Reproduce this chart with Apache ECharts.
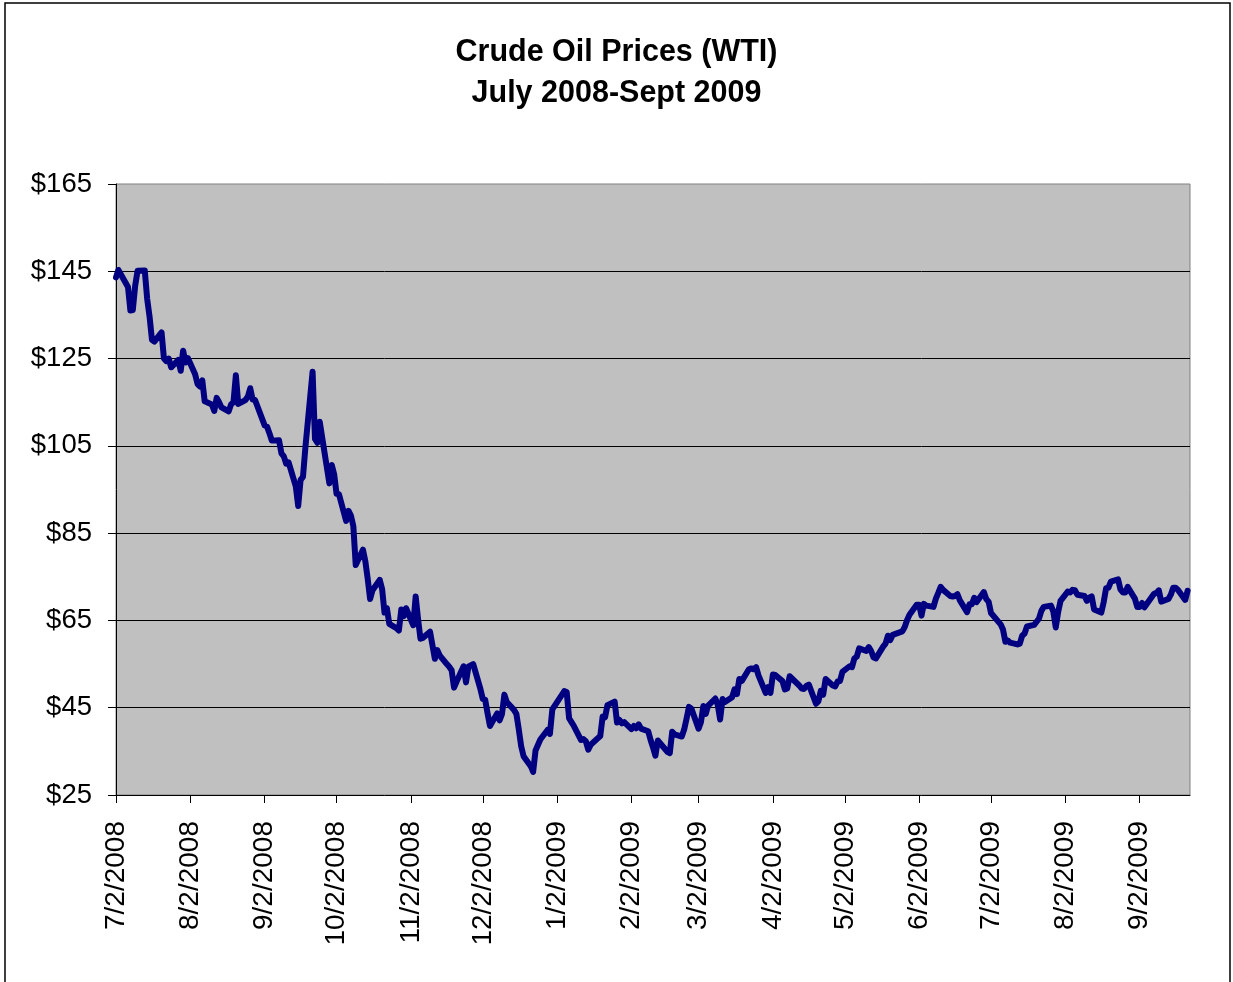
<!DOCTYPE html>
<html lang="en">
<head>
<meta charset="UTF-8">
<title>Crude Oil Prices (WTI)</title>
<script src="https://cdn.jsdelivr.net/npm/echarts@6.0.0/dist/echarts.min.js"></script>
<style>
    html, body { margin: 0; padding: 0; background: #fff; }
    #chart { width: 1233px; height: 982px; }
</style>
</head>
<body>
<div id="chart"></div>
<script>
// daily WTI spot
var dates = [
    '2008-07-02','2008-07-03','2008-07-07','2008-07-08','2008-07-09','2008-07-10','2008-07-11','2008-07-14','2008-07-15','2008-07-16',
    '2008-07-17','2008-07-18','2008-07-21','2008-07-22','2008-07-23','2008-07-24','2008-07-25','2008-07-28','2008-07-29','2008-07-30',
    '2008-07-31','2008-08-01','2008-08-04','2008-08-05','2008-08-06','2008-08-07','2008-08-08','2008-08-11','2008-08-12','2008-08-13',
    '2008-08-14','2008-08-15','2008-08-18','2008-08-19','2008-08-20','2008-08-21','2008-08-22','2008-08-25','2008-08-26','2008-08-27',
    '2008-08-28','2008-08-29','2008-09-02','2008-09-03','2008-09-04','2008-09-05','2008-09-08','2008-09-09','2008-09-10','2008-09-11',
    '2008-09-12','2008-09-15','2008-09-16','2008-09-17','2008-09-18','2008-09-19','2008-09-22','2008-09-23','2008-09-24','2008-09-25',
    '2008-09-26','2008-09-29','2008-09-30','2008-10-01','2008-10-02','2008-10-03','2008-10-06','2008-10-07','2008-10-08','2008-10-09',
    '2008-10-10','2008-10-13','2008-10-14','2008-10-15','2008-10-16','2008-10-17','2008-10-20','2008-10-21','2008-10-22','2008-10-23',
    '2008-10-24','2008-10-27','2008-10-28','2008-10-29','2008-10-30','2008-10-31','2008-11-03','2008-11-04','2008-11-05','2008-11-06',
    '2008-11-07','2008-11-10','2008-11-11','2008-11-12','2008-11-13','2008-11-14','2008-11-17','2008-11-18','2008-11-19','2008-11-20',
    '2008-11-21','2008-11-24','2008-11-25','2008-11-26','2008-11-28','2008-12-01','2008-12-02','2008-12-03','2008-12-04','2008-12-05',
    '2008-12-08','2008-12-09','2008-12-10','2008-12-11','2008-12-12','2008-12-15','2008-12-16','2008-12-17','2008-12-18','2008-12-19',
    '2008-12-22','2008-12-23','2008-12-24','2008-12-26','2008-12-29','2008-12-30','2008-12-31','2009-01-02','2009-01-05','2009-01-06',
    '2009-01-07','2009-01-08','2009-01-09','2009-01-12','2009-01-13','2009-01-14','2009-01-15','2009-01-16','2009-01-20','2009-01-21',
    '2009-01-22','2009-01-23','2009-01-26','2009-01-27','2009-01-28','2009-01-29','2009-01-30','2009-02-02','2009-02-03','2009-02-04',
    '2009-02-05','2009-02-06','2009-02-09','2009-02-10','2009-02-11','2009-02-12','2009-02-13','2009-02-17','2009-02-18','2009-02-19',
    '2009-02-20','2009-02-23','2009-02-24','2009-02-25','2009-02-26','2009-02-27','2009-03-02','2009-03-03','2009-03-04','2009-03-05',
    '2009-03-06','2009-03-09','2009-03-10','2009-03-11','2009-03-12','2009-03-13','2009-03-16','2009-03-17','2009-03-18','2009-03-19',
    '2009-03-20','2009-03-23','2009-03-24','2009-03-25','2009-03-26','2009-03-27','2009-03-30','2009-03-31','2009-04-01','2009-04-02',
    '2009-04-03','2009-04-06','2009-04-07','2009-04-08','2009-04-09','2009-04-13','2009-04-14','2009-04-15','2009-04-16','2009-04-17',
    '2009-04-20','2009-04-21','2009-04-22','2009-04-23','2009-04-24','2009-04-27','2009-04-28','2009-04-29','2009-04-30','2009-05-01',
    '2009-05-04','2009-05-05','2009-05-06','2009-05-07','2009-05-08','2009-05-11','2009-05-12','2009-05-13','2009-05-14','2009-05-15',
    '2009-05-18','2009-05-19','2009-05-20','2009-05-21','2009-05-22','2009-05-26','2009-05-27','2009-05-28','2009-05-29','2009-06-01',
    '2009-06-02','2009-06-03','2009-06-04','2009-06-05','2009-06-08','2009-06-09','2009-06-10','2009-06-11','2009-06-12','2009-06-15',
    '2009-06-16','2009-06-17','2009-06-18','2009-06-19','2009-06-22','2009-06-23','2009-06-24','2009-06-25','2009-06-26','2009-06-29',
    '2009-06-30','2009-07-01','2009-07-02','2009-07-06','2009-07-07','2009-07-08','2009-07-09','2009-07-10','2009-07-13','2009-07-14',
    '2009-07-15','2009-07-16','2009-07-17','2009-07-20','2009-07-21','2009-07-22','2009-07-23','2009-07-24','2009-07-27','2009-07-28',
    '2009-07-29','2009-07-30','2009-07-31','2009-08-03','2009-08-04','2009-08-05','2009-08-06','2009-08-07','2009-08-10','2009-08-11',
    '2009-08-12','2009-08-13','2009-08-14','2009-08-17','2009-08-18','2009-08-19','2009-08-20','2009-08-21','2009-08-24','2009-08-25',
    '2009-08-26','2009-08-27','2009-08-28','2009-08-31','2009-09-01','2009-09-02','2009-09-03','2009-09-04','2009-09-08','2009-09-09',
    '2009-09-10','2009-09-11','2009-09-14','2009-09-15','2009-09-16','2009-09-17','2009-09-18','2009-09-21','2009-09-22'
];
var prices = [
    143.6, 145.3, 141.4, 136.0, 136.1, 141.7, 145.1, 145.2, 138.7, 134.6,
    129.3, 128.9, 131.0, 125.0, 124.4, 125.0, 123.0, 124.7, 122.2, 126.8,
    124.1, 125.1, 121.4, 119.2, 118.6, 120.0, 115.2, 114.5, 113.0, 116.0,
    115.0, 113.8, 112.9, 114.5, 115.0, 121.2, 114.6, 115.5, 116.3, 118.2,
    115.6, 115.5, 109.7, 109.4, 107.9, 106.2, 106.3, 103.3, 102.6, 100.9,
    101.2, 95.7, 91.2, 97.2, 97.9, 104.6, 122.0, 106.6, 105.7, 110.5,
    106.9, 96.4, 100.6, 98.5, 94.0, 93.9, 87.8, 90.1, 89.0, 86.6,
    77.7, 81.2, 78.6, 74.5, 69.9, 71.9, 74.3, 72.2, 66.8, 67.8,
    64.2, 63.2, 62.7, 67.5, 66.0, 67.8, 63.9, 70.5, 65.3, 60.8,
    61.0, 62.4, 59.3, 56.2, 58.2, 57.0, 55.0, 54.4, 53.6, 49.6,
    50.9, 54.5, 50.8, 54.4, 55.0, 49.3, 47.0, 46.8, 43.7, 40.8,
    43.7, 42.1, 43.5, 48.0, 46.3, 44.5, 43.6, 40.1, 36.2, 33.9,
    31.6, 30.3, 35.2, 37.7, 39.9, 39.0, 44.6, 46.3, 48.8, 48.6,
    42.6, 41.7, 40.8, 37.6, 37.8, 37.3, 35.4, 36.5, 38.5, 43.0,
    42.8, 45.6, 46.4, 41.6, 42.2, 41.4, 41.7, 40.1, 40.8, 40.3,
    41.2, 40.2, 39.6, 37.6, 35.9, 34.0, 37.5, 34.9, 34.6, 39.5,
    38.9, 38.4, 40.0, 42.5, 45.2, 44.8, 40.2, 41.7, 45.4, 43.6,
    45.5, 47.1, 45.7, 42.3, 47.0, 46.3, 47.4, 49.2, 48.1, 51.6,
    51.1, 53.8, 54.0, 53.8, 54.3, 52.4, 48.4, 49.7, 48.4, 52.6,
    52.5, 51.1, 49.2, 49.4, 52.2, 50.1, 49.4, 49.3, 50.0, 50.3,
    45.9, 46.5, 48.9, 48.0, 51.6, 50.1, 49.9, 51.0, 51.1, 53.2,
    54.5, 54.3, 56.3, 56.7, 58.6, 58.0, 58.9, 58.0, 56.5, 56.3,
    59.0, 59.7, 61.5, 60.5, 61.7, 62.5, 63.5, 65.1, 66.3, 68.6,
    68.6, 66.1, 68.8, 68.4, 68.1, 70.0, 71.3, 72.7, 72.0, 70.6,
    70.5, 70.6, 71.0, 69.6, 66.9, 68.7, 68.7, 70.2, 69.2, 71.5,
    69.9, 69.3, 66.7, 64.1, 62.9, 60.1, 60.4, 59.9, 59.5, 59.7,
    61.5, 62.0, 63.6, 64.0, 64.7, 65.4, 67.2, 68.1, 68.4, 67.0,
    63.4, 66.9, 69.5, 71.6, 71.4, 72.0, 71.9, 70.9, 70.6, 69.5,
    70.2, 70.5, 67.5, 66.8, 69.2, 72.4, 72.5, 73.9, 74.4, 72.1,
    71.4, 71.4, 72.7, 70.0, 68.1, 68.1, 69.0, 68.0, 71.1, 71.3,
    71.9, 69.3, 69.9, 70.9, 72.5, 72.5, 72.0, 69.7, 71.8
];
var tickDates = ['2008-07-02', '2008-08-02', '2008-09-02', '2008-10-02', '2008-11-02', '2008-12-02', '2009-01-02',
    '2009-02-02', '2009-03-02', '2009-04-02', '2009-05-02', '2009-06-02', '2009-07-02', '2009-08-02', '2009-09-02'];
var axisStart = '2008-07-02';
var axisEnd = '2009-09-23';

var FONT = '"Liberation Sans", Arial, sans-serif';

function ts(s) {
    return new Date(s + 'T00:00:00').getTime();
}

var seriesData = [];
for (var i = 0; i < dates.length; i++) {
    seriesData.push([ts(dates[i]), prices[i]]);
}
var tickTs = tickDates.map(ts);

var myChart = echarts.init(document.getElementById('chart'));
var option = {
    backgroundColor: '#ffffff',
    animation: false,
    title: {
        text: 'Crude Oil Prices (WTI)\nJuly 2008-Sept 2009',
        left: 'center',
        top: 27,
        textStyle: {
            fontFamily: FONT,
            fontSize: 30.5,
            fontWeight: 'bold',
            color: '#000',
            lineHeight: 41
        }
    },
    graphic: [{
        type: 'rect',
        shape: { x: 5, y: 3, width: 1225, height: 1000 },
        style: { fill: 'none', stroke: '#000', lineWidth: 1.5 },
        silent: true
    }],
    grid: {
        left: 116,
        right: 43,
        top: 184,
        bottom: 187,
        show: true,
        backgroundColor: '#C0C0C0',
        borderColor: '#808080',
        borderWidth: 1
    },
    xAxis: {
        type: 'value',
        min: ts(axisStart),
        max: ts(axisEnd),
        axisLine: { show: true, lineStyle: { color: '#000', width: 1 } },
        axisTick: {
            show: true,
            length: 8,
            customValues: tickTs,
            lineStyle: { color: '#000' }
        },
        axisLabel: {
            customValues: tickTs,
            rotate: 90,
            margin: 26,
            fontFamily: FONT,
            fontSize: 28,
            color: '#000',
            formatter: function (v) {
                var d = new Date(v);
                return (d.getMonth() + 1) + '/' + d.getDate() + '/' + d.getFullYear();
            }
        },
        splitLine: { show: false }
    },
    yAxis: {
        type: 'value',
        min: 25,
        max: 165,
        interval: 20,
        axisLine: { show: true, lineStyle: { color: '#000', width: 1 } },
        axisTick: { show: true, length: 8, lineStyle: { color: '#000' } },
        axisLabel: {
            margin: 24,
            fontFamily: FONT,
            fontSize: 27.5,
            color: '#000',
            formatter: function (v) { return '$' + v; }
        },
        splitLine: {
            show: true,
            showMinLine: false,
            showMaxLine: false,
            lineStyle: { color: '#000', width: 1 }
        }
    },
    series: [{
        name: 'WTI',
        type: 'line',
        showSymbol: false,
        data: seriesData,
        lineStyle: { color: '#000080', width: 6, cap: 'round', join: 'round' }
    }]
};
myChart.setOption(option);
</script>
</body>
</html>
